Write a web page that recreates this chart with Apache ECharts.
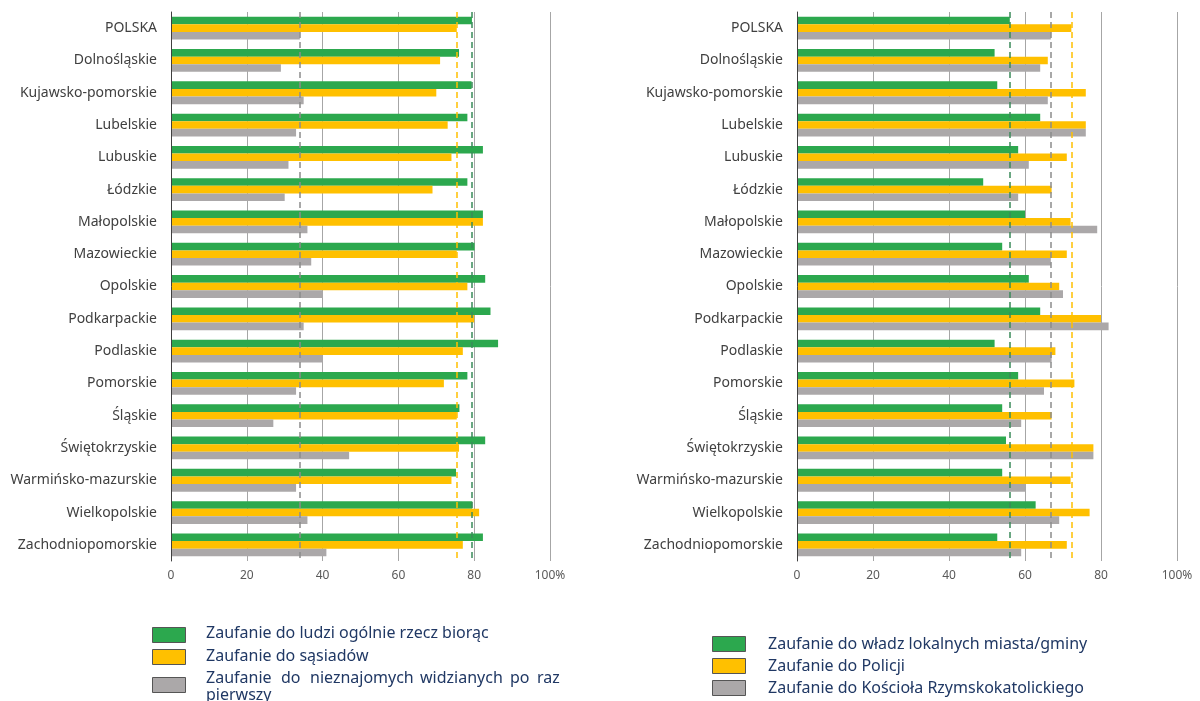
<!DOCTYPE html>
<html>
<head>
<meta charset="utf-8">
<script src="https://cdn.jsdelivr.net/npm/echarts@6/dist/echarts.min.js"></script>
<style>
  html, body { margin: 0; padding: 0; background: #fff; }
  #chart { width: 1200px; height: 701px; }
</style>
</head>
<body>
<div id="chart"></div>
<script>
  // regiony (kolejność od góry)
  var categories = ['POLSKA', 'Dolnośląskie', 'Kujawsko-pomorskie', 'Lubelskie', 'Lubuskie', 'Łódzkie',
    'Małopolskie', 'Mazowieckie', 'Opolskie', 'Podkarpackie', 'Podlaskie', 'Pomorskie', 'Śląskie',
    'Świętokrzyskie', 'Warmińsko-mazurskie', 'Wielkopolskie', 'Zachodniopomorskie']

  // lewy wykres
  var ludzie = [79.4, 76, 79.3, 78.2, 82.3, 78.2, 82.3, 80.1, 82.9, 84.3, 86.3, 78.2, 76.1, 82.9, 75.2, 79.5, 82.3]
  var sasiedzi = [75.4, 71, 70, 73, 74, 69, 82.3, 75.4, 78.2, 80, 77, 72, 75.4, 76, 74, 81.3, 77]
  var nieznajomi = [34, 29, 35, 33, 31, 30, 36, 37, 40, 35, 40, 33, 27, 47, 33, 36, 41]

  // prawy wykres
  var wladze = [56, 52, 52.7, 64, 58.2, 49, 60, 54, 61, 64, 52, 58.2, 54, 55, 54, 62.8, 52.7]
  var policja = [72.2, 66, 76, 76, 71, 67, 72, 71, 69, 80, 68, 73, 67, 78, 72, 77, 71]
  var kosciol = [66.8, 64, 66, 76, 61, 58.2, 79, 66.8, 70, 82, 67, 65, 59, 78, 60, 69, 59]

  var xTicks = [0, 20, 40, 60, 80, 100]

  var GREEN = '#2ca84e'
  var YELLOW = '#ffc000'
  var GREY = '#aba8a9'
  var FONT = 'Noto Sans'

  var myChart = echarts.init(document.getElementById('chart'))

  function xAxisFor (gridIndex) {
    return {
      type: 'value',
      gridIndex: gridIndex,
      min: xTicks[0],
      max: xTicks[xTicks.length - 1],
      interval: 20,
      axisLine: {show: false},
      axisTick: {show: false},
      splitLine: {show: true, lineStyle: {color: '#a6a6a6', width: 1}},
      axisLabel: {
        margin: 9,
        fontSize: 12,
        fontFamily: FONT,
        color: '#595959',
        formatter: function (v) {
          return v === 100 ? '100%' : String(v)
        }
      }
    }
  }

  function yAxisFor (gridIndex) {
    return {
      type: 'category',
      gridIndex: gridIndex,
      inverse: true,
      z: 5,
      data: categories,
      axisLine: {show: true, lineStyle: {color: '#404040', width: 1}},
      axisTick: {show: false},
      axisLabel: {margin: 14, fontSize: 14, fontFamily: FONT, color: '#404040'}
    }
  }

  function bar (name, data, color, lineColor, idx) {
    return {
      name: name,
      type: 'bar',
      xAxisIndex: idx,
      yAxisIndex: idx,
      data: data,
      barWidth: 7.6,
      barGap: '0%',
      itemStyle: {color: color},
      markLine: {
        silent: true,
        symbol: 'none',
        label: {show: false},
        lineStyle: {color: lineColor, type: [6, 4], width: 1.5},
        data: [{xAxis: data[0]}]
      }
    }
  }

  function legendBlock (x, items) {
    var els = []
    items.forEach(function (it) {
      els.push({
        type: 'rect',
        left: x,
        top: it.y,
        shape: {width: 33, height: 15},
        style: {fill: it.color, stroke: '#555', lineWidth: 1}
      })
      it.words.forEach(function (w) {
        els.push({
          type: 'text',
          x: w.x,
          y: w.y,
          style: {text: w.t, fontSize: 16, fontFamily: FONT, fill: '#203864', verticalAlign: 'middle'}
        })
      })
    })
    return els
  }

  var option = {
    animation: false,
    grid: [
      {left: 171, top: 12, width: 379, height: 549},
      {left: 797, top: 12, width: 380, height: 549}
    ],
    xAxis: [xAxisFor(0), xAxisFor(1)],
    yAxis: [yAxisFor(0), yAxisFor(1)],
    series: [
      bar('Zaufanie do ludzi ogólnie rzecz biorąc', ludzie, GREEN, '#3a8a5a', 0),
      bar('Zaufanie do sąsiadów', sasiedzi, YELLOW, YELLOW, 0),
      bar('Zaufanie do nieznajomych widzianych po raz pierwszy', nieznajomi, GREY, '#8c8c8c', 0),
      bar('Zaufanie do władz lokalnych miasta/gminy', wladze, GREEN, '#3a8a5a', 1),
      bar('Zaufanie do Policji', policja, YELLOW, YELLOW, 1),
      bar('Zaufanie do Kościoła Rzymskokatolickiego', kosciol, GREY, '#8c8c8c', 1)
    ],
    graphic: legendBlock(152, [
      {y: 627, color: GREEN, words: [{x: 206, y: 633, t: 'Zaufanie do ludzi ogólnie rzecz biorąc'}]},
      {y: 649, color: YELLOW, words: [{x: 206, y: 656, t: 'Zaufanie do sąsiadów'}]},
      {y: 677, color: GREY, words: [
        {x: 206, y: 678, t: 'Zaufanie'},
        {x: 281, y: 678, t: 'do'},
        {x: 310, y: 678, t: 'nieznajomych'},
        {x: 420, y: 678, t: 'widzianych'},
        {x: 510, y: 678, t: 'po'},
        {x: 537, y: 678, t: 'raz'},
        {x: 206, y: 695, t: 'pierwszy'}
      ]}
    ]).concat(legendBlock(712, [
      {y: 636, color: GREEN, words: [{x: 768, y: 644, t: 'Zaufanie do władz lokalnych miasta/gminy'}]},
      {y: 658, color: YELLOW, words: [{x: 768, y: 666, t: 'Zaufanie do Policji'}]},
      {y: 680, color: GREY, words: [{x: 768, y: 688, t: 'Zaufanie do Kościoła Rzymskokatolickiego'}]}
    ]))
  }

  myChart.setOption(option)
  window.onresize = function () {
    myChart.resize()
  }
</script>
</body>
</html>
